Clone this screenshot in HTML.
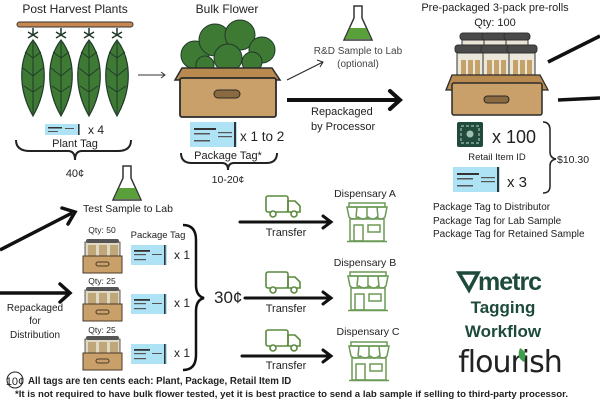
<!DOCTYPE html>
<html><head><meta charset="utf-8"><style>
html,body{margin:0;padding:0;background:#fff}
svg{display:block;font-family:"Liberation Sans",sans-serif}
</style></head><body>
<svg width="600" height="400" viewBox="0 0 600 400" xmlns="http://www.w3.org/2000/svg">
<defs>
 <g id="tag">
  <rect x="0" y="0" width="35" height="11" fill="#aee3f5"/>
  <rect x="3" y="3" width="14" height="1.5" fill="#333"/>
  <rect x="3" y="7" width="10" height="1" fill="#555"/>
  <rect x="20" y="4" width="9" height="1" fill="#555"/>
  <rect x="33" y="0" width="1.5" height="11" fill="#333"/>
 </g>
 <g id="btag">
  <rect x="0" y="0" width="47" height="25" fill="#aee3f5"/>
  <rect x="4" y="6" width="22" height="2" fill="#333"/>
  <rect x="4" y="11" width="16" height="1.5" fill="#555"/>
  <rect x="4" y="18" width="16" height="1.5" fill="#555"/>
  <rect x="28" y="10" width="14" height="1.2" fill="#555"/>
  <rect x="28" y="14" width="14" height="1.2" fill="#555"/>
  <rect x="44" y="0" width="2" height="25" fill="#333"/>
 </g>
 <g id="stag">
  <rect x="0" y="0" width="36" height="20" fill="#aee3f5"/>
  <rect x="3" y="5" width="16" height="1.8" fill="#333"/>
  <rect x="3" y="9" width="12" height="1.2" fill="#555"/>
  <rect x="3" y="14" width="12" height="1.2" fill="#555"/>
  <rect x="21" y="9" width="10" height="1" fill="#555"/>
  <rect x="33" y="0" width="1.6" height="20" fill="#333"/>
 </g>
 <g id="plant">
  <path d="M0,0 V8 M-5,4 L5,10 M5,4 L-5,10" stroke="#1f3a2a" stroke-width="1.5" fill="none"/>
  <path d="M0,12 C-14,30 -16,60 0,88 C16,60 14,30 0,12Z" fill="#3f7a34" stroke="#1f3a2a" stroke-width="1.2"/>
  <path d="M0,14 V86 M0,30 L-8,24 M0,30 L8,24 M0,48 L-10,40 M0,48 L10,40 M0,64 L-9,58 M0,64 L9,58" stroke="#1f3a2a" stroke-width="1" fill="none"/>
 </g>
 <g id="truck">
  <rect x="0" y="0" width="22" height="16" rx="2" fill="none" stroke="#5a8a3c" stroke-width="1.6"/>
  <path d="M22,5 H29 L34,10 V16 H22Z" fill="none" stroke="#5a8a3c" stroke-width="1.6"/>
  <circle cx="7" cy="18" r="3" fill="#fff" stroke="#5a8a3c" stroke-width="1.6"/>
  <circle cx="28" cy="18" r="3" fill="#fff" stroke="#5a8a3c" stroke-width="1.6"/>
 </g>
 <g id="store" fill="none" stroke="#6b9a56" stroke-width="1.5">
  <rect x="2" y="0" width="36" height="4"/>
  <path d="M0,4 H40 L38,14 Q34,18 30,14 Q26,18 21,14 Q16,18 11,14 Q6,18 2,14Z"/>
  <path d="M10,4 L9,14 M20,4 V14 M30,4 L31,14"/>
  <rect x="3" y="16" width="34" height="22"/>
  <rect x="7" y="22" width="9" height="16"/>
  <rect x="21" y="22" width="12" height="7"/>
  <line x1="0" y1="38.5" x2="40" y2="38.5"/>
 </g>
 <g id="smallbox">
  <rect x="2" y="0" width="35" height="14" fill="#ded8c4" stroke="#333" stroke-width="0.8"/>
  <rect x="5" y="3" width="8" height="11" fill="#bfa77a"/><rect x="16" y="3" width="8" height="11" fill="#bfa77a"/><rect x="27" y="3" width="8" height="11" fill="#bfa77a"/>
  <rect x="3" y="-3" width="33" height="4" rx="2" fill="#555"/>
  <rect x="0" y="14" width="39" height="17" fill="#c9a06a" stroke="#4a3a28" stroke-width="1"/>
  <rect x="13" y="20" width="13" height="4" rx="2" fill="none" stroke="#4a3a28"/>
 </g>
 <g id="flask">
  <path d="M-4,0 H4 V12 L14,34 H-14 L-4,12Z" fill="#fff" stroke="#333" stroke-width="1.5"/>
  <path d="M-8,22 H8 L13,33 H-13Z" fill="#5aa03a"/>
 </g>
</defs>

<!-- Post harvest -->
<text x="75" y="13" font-size="12" text-anchor="middle" fill="#222">Post Harvest Plants</text>
<rect x="17" y="22" width="116" height="5" rx="2.5" fill="#c8874f" stroke="#333" stroke-width="1"/>
<use href="#plant" x="33" y="28"/><use href="#plant" x="61" y="28"/><use href="#plant" x="89" y="28"/><use href="#plant" x="117" y="28"/>
<use href="#tag" x="45" y="124"/>
<text x="88" y="134" font-size="12" fill="#222">x 4</text>
<text x="75" y="147" font-size="11" text-anchor="middle" fill="#222">Plant Tag</text>
<path d="M16,140 Q16,151 30,151 H68 Q75,151 75,160 Q75,151 82,151 H118 Q131,151 131,140" fill="none" stroke="#222" stroke-width="2"/>
<text x="75" y="177" font-size="11" text-anchor="middle" fill="#222">40¢</text>
<path d="M138,75 H164" stroke="#333" stroke-width="1"/><path d="M161,72 L165,75 L161,78" fill="none" stroke="#333"/>

<!-- Bulk flower -->
<text x="227" y="13" font-size="12" text-anchor="middle" fill="#222">Bulk Flower</text>
<g fill="#3f7a34" stroke="#1f3a2a" stroke-width="1">
 <circle cx="195" cy="55" r="14"/><circle cx="215" cy="40" r="16"/><circle cx="240" cy="35" r="15"/><circle cx="262" cy="50" r="13"/><circle cx="228" cy="58" r="14"/><circle cx="252" cy="62" r="10"/><circle cx="205" cy="65" r="9"/>
</g>
<path d="M175,80 L182,68 H272 L280,80Z" fill="#b88a50" stroke="#2a2a2a" stroke-width="1.5"/>
<rect x="180" y="78" width="96" height="39" rx="2" fill="#c9a06a" stroke="#2a2a2a" stroke-width="1.8"/>
<rect x="214" y="90" width="26" height="8" rx="4" fill="#8a6a40" stroke="#2a2a2a"/>
<use href="#btag" x="190" y="122"/>
<text x="240" y="141" font-size="13.5" fill="#222">x 1 to 2</text>
<text x="228" y="159" font-size="11" text-anchor="middle" fill="#222">Package Tag*</text>
<path d="M181,153 Q181,163 192,163 H222 Q228,163 228,170 Q228,163 234,163 H266 Q277,163 277,153" fill="none" stroke="#222" stroke-width="2"/>
<text x="228" y="183" font-size="10.5" text-anchor="middle" fill="#222">10-20¢</text>

<!-- R&D -->
<path d="M287,80 L323,62" stroke="#222" stroke-width="1"/><path d="M317,60 L323,62 L320,67" fill="none" stroke="#222"/>
<use href="#flask" x="358" y="6"/>
<text x="358" y="54" font-size="10" text-anchor="middle" fill="#444">R&amp;D Sample to Lab</text>
<text x="358" y="67" font-size="10" text-anchor="middle" fill="#444">(optional)</text>
<path d="M287,100 H398" stroke="#111" stroke-width="4"/><path d="M390,91 L400,100 L390,109" fill="none" stroke="#111" stroke-width="4" stroke-linecap="round"/>
<text x="311" y="115" font-size="11" fill="#222">Repackaged</text>
<text x="311" y="130" font-size="11" fill="#222">by Processor</text>

<!-- Pre-packaged -->
<text x="495" y="11" font-size="11" text-anchor="middle" fill="#222">Pre-packaged 3-pack pre-rolls</text>
<text x="495" y="26" font-size="11" text-anchor="middle" fill="#222">Qty: 100</text>
<g stroke="#333" stroke-width="1">
 <rect x="462" y="37" width="22" height="40" fill="#e8e4d6"/><rect x="484" y="37" width="22" height="40" fill="#e8e4d6"/><rect x="506" y="37" width="22" height="40" fill="#e8e4d6"/>
 <rect x="460" y="33" width="26" height="7" rx="3" fill="#4a4a4a"/><rect x="482" y="33" width="26" height="7" rx="3" fill="#4a4a4a"/><rect x="504" y="33" width="26" height="7" rx="3" fill="#4a4a4a"/>
 <rect x="457" y="50" width="26" height="35" fill="#ebe7da"/><rect x="483" y="50" width="26" height="35" fill="#ebe7da"/><rect x="509" y="50" width="26" height="35" fill="#ebe7da"/>
 <rect x="455" y="45" width="30" height="8" rx="3" fill="#4a4a4a"/><rect x="481" y="45" width="30" height="8" rx="3" fill="#4a4a4a"/><rect x="507" y="45" width="30" height="8" rx="3" fill="#4a4a4a"/>
</g>
<g fill="#c4a26a"><rect x="461" y="60" width="5" height="20"/><rect x="468" y="60" width="5" height="20"/><rect x="475" y="60" width="5" height="20"/><rect x="487" y="60" width="5" height="20"/><rect x="494" y="60" width="5" height="20"/><rect x="501" y="60" width="5" height="20"/><rect x="513" y="60" width="5" height="20"/><rect x="520" y="60" width="5" height="20"/><rect x="527" y="60" width="5" height="20"/></g>
<path d="M446,90 L452,75 H540 L548,90Z" fill="#b88a50" stroke="#2a2a2a" stroke-width="1.3"/>
<rect x="452" y="83" width="90" height="32" rx="2" fill="#c9a06a" stroke="#2a2a2a" stroke-width="1.5"/>
<rect x="484" y="96" width="25" height="7" rx="3.5" fill="#8a6a40" stroke="#2a2a2a"/>
<rect x="457" y="122" width="26" height="25" rx="2" fill="#1f4a3c"/>
<rect x="461" y="126" width="18" height="17" fill="none" stroke="#9fc0b0" stroke-width="1.2" stroke-dasharray="3 2"/>
<circle cx="470" cy="134" r="3.5" fill="#9fc0b0"/>
<text x="492" y="143" font-size="18" fill="#222">x 100</text>
<text x="497" y="160" font-size="9.5" text-anchor="middle" fill="#222">Retail Item ID</text>
<use href="#btag" x="453" y="167"/>
<text x="507" y="187" font-size="15" fill="#222">x 3</text>
<path d="M543,122 Q550,122 550,130 V152 Q550,158 556,159 Q550,160 550,166 V186 Q550,193 543,193" fill="none" stroke="#222" stroke-width="1.5"/>
<text x="557" y="163" font-size="10.5" fill="#222">$10.30</text>
<text x="433" y="210" font-size="10" fill="#222">Package Tag to Distributor</text>
<text x="433" y="224" font-size="10" fill="#222">Package Tag for Lab Sample</text>
<text x="433" y="237" font-size="10" fill="#222">Package Tag for Retained Sample</text>
<path d="M548,62 L600,36" stroke="#111" stroke-width="3.5"/>
<path d="M558,100 L600,98" stroke="#111" stroke-width="3.5"/>

<!-- Left bottom -->
<use href="#flask" x="127" y="166"/>
<text x="128" y="212" font-size="10.5" text-anchor="middle" fill="#222">Test Sample to Lab</text>
<path d="M0,250 L72,213" stroke="#111" stroke-width="3.5"/><path d="M62,208 L75,212 L68,224" fill="none" stroke="#111" stroke-width="3.5" stroke-linecap="round"/>
<path d="M0,293 H68" stroke="#111" stroke-width="3.5"/><path d="M60,284 L70,293 L60,302" fill="none" stroke="#111" stroke-width="3.5" stroke-linecap="round"/>
<text x="35" y="311" font-size="10" text-anchor="middle" fill="#222">Repackaged</text>
<text x="35" y="324" font-size="10" text-anchor="middle" fill="#222">for</text>
<text x="35" y="338" font-size="10" text-anchor="middle" fill="#222">Distribution</text>
<text x="102" y="233" font-size="8.5" text-anchor="middle" fill="#222">Qty: 50</text>
<text x="102" y="284" font-size="8.5" text-anchor="middle" fill="#222">Qty: 25</text>
<text x="102" y="333" font-size="8.5" text-anchor="middle" fill="#222">Qty: 25</text>
<use href="#smallbox" x="83" y="242"/><use href="#smallbox" x="83" y="290"/><use href="#smallbox" x="83" y="339"/>
<text x="158" y="238" font-size="9.5" text-anchor="middle" fill="#222">Package Tag</text>
<use href="#stag" x="131" y="245"/><use href="#stag" x="131" y="294"/><use href="#stag" x="131" y="344"/>
<text x="174" y="259" font-size="12" fill="#222">x 1</text>
<text x="174" y="307" font-size="12" fill="#222">x 1</text>
<text x="174" y="357" font-size="12" fill="#222">x 1</text>
<path d="M183,225 Q196,225 196,240 V285 Q196,296 204,298 Q196,300 196,311 V355 Q196,370 183,370" fill="none" stroke="#111" stroke-width="2.5"/>
<text x="214" y="303" font-size="17" fill="#222">30¢</text>

<!-- transfers -->
<use href="#truck" x="266" y="196"/><use href="#truck" x="266" y="272"/><use href="#truck" x="266" y="330"/>
<g stroke="#111" stroke-width="3" fill="none" stroke-linecap="round">
 <path d="M240,222 H330"/><path d="M323,216 L331,222 L323,228"/>
 <path d="M245,298 H330"/><path d="M323,292 L331,298 L323,304"/>
 <path d="M242,356 H330"/><path d="M323,350 L331,356 L323,362"/>
</g>
<text x="286" y="236" font-size="11" text-anchor="middle" fill="#222">Transfer</text>
<text x="286" y="312" font-size="11" text-anchor="middle" fill="#222">Transfer</text>
<text x="286" y="369" font-size="11" text-anchor="middle" fill="#222">Transfer</text>
<text x="365" y="197" font-size="10.5" text-anchor="middle" fill="#222">Dispensary A</text>
<text x="365" y="266" font-size="10.5" text-anchor="middle" fill="#222">Dispensary B</text>
<text x="368" y="335" font-size="10.5" text-anchor="middle" fill="#222">Dispensary C</text>
<use href="#store" x="347" y="203"/><use href="#store" x="348" y="272"/><use href="#store" x="349" y="342"/>

<!-- metrc -->
<path d="M459,273 L478,273 L469,290Z" fill="none" stroke="#1d4a3a" stroke-width="3.5"/>
<text x="478" y="290" font-size="25" font-weight="bold" fill="#1d4a3a" letter-spacing="-1">metrc</text>
<text x="503" y="313" font-size="17" font-weight="bold" text-anchor="middle" fill="#1d4a3a">Tagging</text>
<text x="503" y="337" font-size="17" font-weight="bold" text-anchor="middle" fill="#1d4a3a">Workflow</text>
<text x="510" y="372" font-size="30" text-anchor="middle" fill="#222" style="font-family:'DejaVu Sans',sans-serif" letter-spacing="-1">flourish</text>
<path d="M520,348 Q528,352 524,362 Q516,358 520,348Z" fill="#3ca04a"/>

<!-- footer -->
<circle cx="15" cy="380" r="8" fill="none" stroke="#222" stroke-width="1"/>
<text x="15" y="385" font-size="11" text-anchor="middle" fill="#222">10¢</text>
<text x="28" y="384" font-size="9.7" font-weight="bold" fill="#222">All tags are ten cents each: Plant, Package, Retail Item ID</text>
<text x="15" y="397" font-size="9.6" font-weight="bold" fill="#222" textLength="553" lengthAdjust="spacingAndGlyphs">*It is not required to have bulk flower tested, yet it is best practice to send a lab sample if selling to third-party processor.</text>
</svg>
</body></html>
